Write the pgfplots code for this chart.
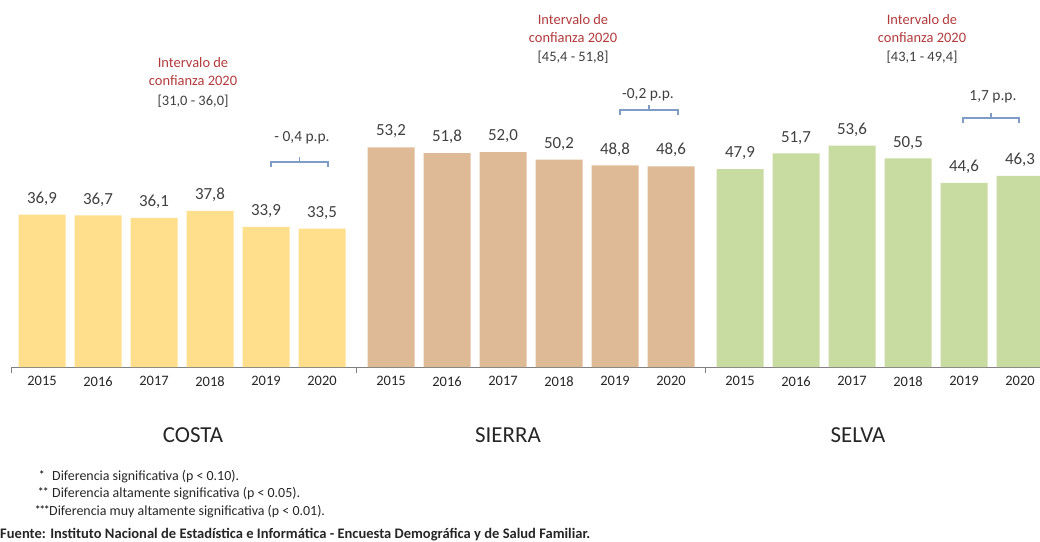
\documentclass[border=0pt]{standalone}
\usepackage{pgfplots}
\pgfplotsset{compat=1.18}
\usepackage{fontspec}
\setmainfont{Carlito}
\definecolor{costa}{HTML}{FFDF8C}
\definecolor{sierra}{HTML}{DEBB96}
\definecolor{selva}{HTML}{C8DBA0}
\definecolor{lbl}{HTML}{404040}
\definecolor{dark}{HTML}{262626}
\definecolor{ired}{HTML}{B23A3C}
\definecolor{brace}{HTML}{7F9CC6}
\begin{document}
\begin{tikzpicture}
\useasboundingbox (-11bp,-175bp) rectangle (1029bp,367bp);
\begin{axis}[
  at={(0,0)}, anchor=south west,
  scale only axis, width=1029bp, height=367bp,
  xmin=-0.554, xmax=17.82, ymin=0, ymax=88.86,
  ybar, bar width=0.84,
  axis x line*=bottom, hide y axis,
  x axis line style={draw=gray, line width=0.8pt},
  clip=false,
  xtick={0,1,2,3,4,5,6.232,7.232,8.232,9.232,10.232,11.232,12.464,13.464,14.464,15.464,16.464,17.464},
  xticklabels={2015,2016,2017,2018,2019,2020,2015,2016,2017,2018,2019,2020,2015,2016,2017,2018,2019,2020},
  major tick length=0pt,
  xticklabel style={font=\fontsize{14.5}{16}\selectfont, text=dark, yshift=-6bp},
  extra x ticks={-0.554,5.616,11.848},
  extra x tick labels={},
  extra x tick style={major tick length=6bp, tick align=outside, tick style={draw=gray, line width=0.8pt}},
  /pgf/number format/.cd, use comma, fixed, fixed zerofill, precision=1, assume math mode=true,
  /pgfplots/.cd,
  nodes near coords,
  every node near coord/.append style={font=\fontsize{17}{19}\selectfont, text=lbl, inner sep=0pt, yshift=9bp},
]
\addplot[fill=costa, draw=none, bar shift=0pt] coordinates {(0,36.9) (1,36.7) (2,36.1) (3,37.8) (4,33.9) (5,33.5)};
\addplot[fill=sierra, draw=none, bar shift=0pt] coordinates {(6.232,53.2) (7.232,51.8) (8.232,52.0) (9.232,50.2) (10.232,48.8) (11.232,48.6)};
\addplot[fill=selva, draw=none, bar shift=0pt] coordinates {(12.464,47.9) (13.464,51.7) (14.464,53.6) (15.464,50.5) (16.464,44.6) (17.464,46.3)};
\end{axis}
\begin{scope}[x=1bp,y=-1bp,shift={(-11bp,367bp)}]
  \tikzset{ititle/.style={text=ired, font=\fontsize{14.5}{16}\selectfont, inner sep=0pt},
           ival/.style={text=lbl, font=\fontsize{14.5}{16}\selectfont, inner sep=0pt},
           pp/.style={text=lbl, font=\fontsize{15.5}{17}\selectfont, inner sep=0pt},
           br/.style={draw=brace, line width=1.2pt}}
  % Costa
  \node[ititle] at (193,63) {Intervalo de};
  \node[ititle] at (193,81) {confianza 2020};
  \node[ival] at (193,101) {[31,0 - 36,0]};
  \node[pp] at (302,138) {- 0,4 p.p.};
  \draw[br] (271,167) -- (271,162) -- (328,162) -- (328,167) (299.5,162) -- (299.5,157);
  % Sierra
  \node[ititle] at (573,20) {Intervalo de};
  \node[ititle] at (573,38) {confianza 2020};
  \node[ival] at (573,57) {[45,4 - 51,8]};
  \node[pp] at (648,95) {-0,2 p.p.};
  \draw[br] (620,115) -- (620,110) -- (678,110) -- (678,115) (649,110) -- (649,105);
  % Selva
  \node[ititle] at (922,20) {Intervalo de};
  \node[ititle] at (922,38) {confianza 2020};
  \node[ival] at (922,57) {[43,1 - 49,4]};
  \node[pp] at (993,97) {1,7 p.p.};
  \draw[br] (963,123) -- (963,118) -- (1019,118) -- (1019,123) (991,118) -- (991,113);
  % group labels
  \node[text=dark, font=\fontsize{23}{25}\selectfont] at (193,435) {COSTA};
  \node[text=dark, font=\fontsize{23}{25}\selectfont] at (508,435) {SIERRA};
  \node[text=dark, font=\fontsize{23}{25}\selectfont] at (858,435) {SELVA};
  % footnotes
  \tikzset{fn/.style={anchor=west, inner sep=0pt, text=dark, font=\fontsize{14}{16}\selectfont},
           st/.style={anchor=west, inner sep=0pt, text=dark, font=\fontsize{11}{12}\selectfont\bfseries}}
  \node[st] at (39,475) {*};
  \node[st] at (38,492) {*\kern-0.5pt*};
  \node[st] at (35,510) {*\kern-1pt*\kern-1pt*};
  \node[fn] at (52,477) {Diferencia significativa (p < 0.10).};
  \node[fn] at (52,494) {Diferencia altamente significativa (p < 0.05).};
  \node[fn] at (49,512) {Diferencia muy altamente significativa (p < 0.01).};
  \node[fn, font=\fontsize{14.6}{16}\selectfont\bfseries] at (0,535) {Fuente: Instituto Nacional de Estadística e Informática - Encuesta Demográfica y de Salud Familiar.};
\end{scope}
\end{tikzpicture}
\end{document}
